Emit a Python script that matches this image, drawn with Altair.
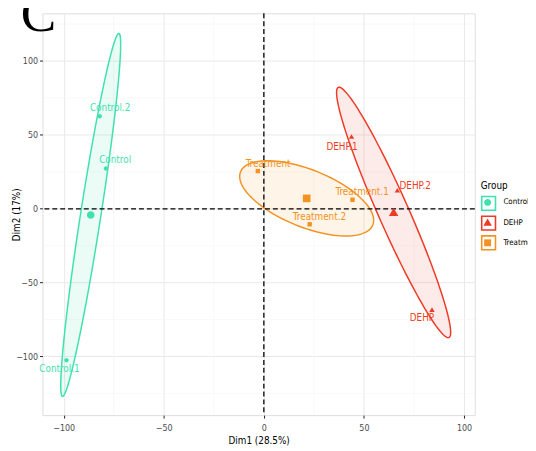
import sys
import altair as alt
import numpy as np
import pandas as pd

# ---- data ----
names = ["Control", "Control.1", "Control.2",
         "DEHP", "DEHP.1", "DEHP.2",
         "Treatment", "Treatment.1", "Treatment.2"]
groups = ["Control", "Control", "Control",
          "DEHP", "DEHP", "DEHP",
          "Treatment", "Treatment", "Treatment"]
dim1 = [-78.9, -98.6, -82.0, 84.0, 43.8, 66.7, -3.0, 44.3, 22.9]
dim2 = [27.3, -102.5, 62.6, -68.5, 48.7, 12.3, 25.5, 6.1, -10.5]
# label anchor positions (as placed by the repelling labeller)
label_x = [-74.3, -102.1, -76.8, 79.0, 39.1, 75.6, 2.1, 49.1, 27.8]
label_y = [32.8, -108.7, 68.5, -74.2, 41.6, 15.1, 30.3, 11.6, -5.4]

group_names = ["Control", "DEHP", "Treatment"]
group_colors = ["#3fe1ae", "#ee3b25", "#f39220"]
# symbol outlines (unit square coordinates)
group_shapes = ["M0,-0.5A0.5,0.5,0,1,1,0,0.5A0.5,0.5,0,1,1,0,-0.5Z",
                "M0,-0.6L0.62,0.45L-0.62,0.45Z",
                "M-0.5,-0.5H0.5V0.5H-0.5Z"]

x_ticks = [-100, -50, 0, 50, 100]
y_ticks = [-100, -50, 0, 50, 100]
x_minor = [-75, -25, 25, 75]
y_minor = [-125, -75, -25, 25, 75, 125]

FONT = "Liberation Sans Narrow, DejaVu Sans Condensed, sans-serif"


def safe_legend(encode=None, **kw):
    """Build a Legend, dropping any option the schema refuses."""
    good = {}
    for k, v in kw.items():
        try:
            alt.Legend(**good, **{k: v}).to_dict()
            good[k] = v
        except Exception:
            print("dropped legend option:", k, file=sys.stderr)
    if encode:
        sym = {}
        for k, v in encode.get("symbols", {}).items():
            trial = dict(sym)
            trial[k] = v
            try:
                alt.Legend(**good, encode={"symbols": trial}).to_dict()
                sym = trial
            except Exception:
                print("dropped symbol encode:", k, file=sys.stderr)
        if sym:
            good["encode"] = {"symbols": sym}
    return alt.Legend(**good)


pts = pd.DataFrame({"name": names, "Group": groups, "x": dim1, "y": dim2,
                    "lx": label_x, "ly": label_y})

# group barycentres and 95% confidence ellipses around them
chi = -2.0 * np.log(0.05)
ellipse_frames = []
means = []
for g in group_names:
    sub = pts[pts.Group == g]
    xy = sub[["x", "y"]].to_numpy()
    m = xy.mean(axis=0)
    means.append({"Group": g, "Gbox": g, "x": m[0], "y": m[1]})
    cov = np.cov(xy.T) / len(xy)
    L = np.linalg.cholesky(cov)
    r = np.sqrt(chi)
    t = np.linspace(0, 2 * np.pi, 121)
    circ = np.vstack([np.cos(t), np.sin(t)])
    e = m[:, None] + r * L @ circ
    ellipse_frames.append(pd.DataFrame({"i": np.arange(e.shape[1]), "x": e[0], "y": e[1]}))
mean_df = pd.DataFrame(means)

xscale = alt.Scale(domain=[-110.6, 105.4], nice=False, zero=False)
yscale = alt.Scale(domain=[-139.7, 132.3], nice=False, zero=False)

xaxis = alt.Axis(values=x_ticks, title="Dim1 (28.5%)", grid=True, gridColor="#e9e9e9",
                 gridWidth=1, domain=False, ticks=True, tickColor="#222222", tickSize=3,
                 tickWidth=1, labelFont=FONT, labelFontSize=9, labelColor="#4d4d4d",
                 labelPadding=6, titleFont=FONT, titleFontSize=10, titleFontWeight="normal",
                 titleColor="#000000", titlePadding=3)
yaxis = alt.Axis(values=y_ticks, title="Dim2 (17%)", grid=True, gridColor="#e9e9e9",
                 gridWidth=1, domain=False, ticks=True, tickColor="#222222", tickSize=3,
                 tickWidth=1, labelFont=FONT, labelFontSize=9, labelColor="#4d4d4d",
                 labelPadding=2, titleFont=FONT, titleFontSize=10, titleFontWeight="normal",
                 titleColor="#000000", titleX=-26, titleY=204, titleAngle=270,
                 titleAlign="center", titleBaseline="middle")

color_scale = alt.Scale(domain=group_names, range=group_colors)
shape_scale = alt.Scale(domain=group_names, range=group_shapes)

base = alt.Chart(pts)

minor_x = alt.Chart(pd.DataFrame({"v": x_minor})).mark_rule(
    color="#f3f3f3", strokeWidth=0.6).encode(x=alt.X("v:Q", scale=xscale, axis=xaxis))
minor_y = alt.Chart(pd.DataFrame({"v": y_minor})).mark_rule(
    color="#f3f3f3", strokeWidth=0.6).encode(y=alt.Y("v:Q", scale=yscale, axis=yaxis))

ellipse_layers = []
for g, c, df in zip(group_names, group_colors, ellipse_frames):
    ellipse_layers.append(
        alt.Chart(df).mark_line(stroke=c, fill=c, fillOpacity=0.1, strokeWidth=1.5).encode(
            x=alt.X("x:Q", scale=xscale),
            y=alt.Y("y:Q", scale=yscale),
            order="i:Q",
        )
    )

zero_v = alt.Chart(pd.DataFrame({"v": [0]})).mark_rule(
    color="black", strokeWidth=1.3, strokeDash=[5, 3]).encode(x=alt.X("v:Q", scale=xscale))
zero_h = alt.Chart(pd.DataFrame({"v": [0]})).mark_rule(
    color="black", strokeWidth=1.3, strokeDash=[5, 3]).encode(y=alt.Y("v:Q", scale=yscale))

LEG_X, LEG_Y = 445, 170
common = dict(title="Group", orient="none", legendX=LEG_X, legendY=LEG_Y,
              symbolSize=196, padding=0, titleFont=FONT, titleFontSize=10,
              titleFontWeight="normal", titlePadding=5, labelFont=FONT,
              labelFontSize=8, labelOffset=9)

box_legend = safe_legend(symbolType="square", titleColor="rgba(0,0,0,0)",
                         labelColor="rgba(0,0,0,0)", symbolStrokeWidth=1.6, zindex=0,
                         rowPadding=-2,
                         encode={"symbols": {"fillOpacity": {"value": 0.12},
                                             "strokeWidth": {"value": 1.6}}},
                         **common)
main_legend = safe_legend(titleColor="#000000", labelColor="#000000", zindex=1,
                          rowPadding=9.5, symbolStrokeWidth=0, **common)

# invisible marks carrying the key boxes of the legend
box_keys = alt.Chart(mean_df).mark_point(shape="square", filled=True, fillOpacity=0.12,
                                         strokeWidth=1.6, opacity=0, size=196).encode(
    x=alt.X("x:Q", scale=xscale),
    y=alt.Y("y:Q", scale=yscale),
    fill=alt.Fill("Gbox:N", scale=alt.Scale(range=group_colors), legend=box_legend),
    stroke=alt.Stroke("Gbox:N", scale=alt.Scale(range=group_colors), legend=box_legend),
)

points = base.mark_point(filled=True, size=80, opacity=1, strokeWidth=0).encode(
    x=alt.X("x:Q", scale=xscale),
    y=alt.Y("y:Q", scale=yscale),
    color=alt.Color("Group:N", scale=color_scale, legend=main_legend),
    shape=alt.Shape("Group:N", scale=shape_scale, legend=main_legend),
)

mean_pts = alt.Chart(mean_df).mark_point(filled=True, size=240, opacity=1,
                                         strokeWidth=0).encode(
    x=alt.X("x:Q", scale=xscale),
    y=alt.Y("y:Q", scale=yscale),
    color=alt.Color("Group:N", scale=color_scale, legend=main_legend),
    shape=alt.Shape("Group:N", scale=shape_scale, legend=main_legend),
)

labels = base.mark_text(font=FONT, fontSize=10, align="center", baseline="middle").encode(
    x=alt.X("lx:Q", scale=xscale),
    y=alt.Y("ly:Q", scale=yscale),
    text="name:N",
    color=alt.Color("Group:N", scale=color_scale, legend=None),
)

big_c = alt.Chart(pd.DataFrame({"t": ["C"]})).mark_text(
    font="Liberation Serif, DejaVu Serif, serif", fontSize=54, align="left",
    baseline="alphabetic", color="black").encode(
    text="t:N", x=alt.value(-22), y=alt.value(18))
title_txt = alt.Chart(pd.DataFrame({"t": ["Individuals - PCA"]})).mark_text(
    font=FONT, fontSize=10, fontWeight="bold", align="left",
    baseline="alphabetic", color="black").encode(
    text="t:N", x=alt.value(0), y=alt.value(-7))

chart = alt.layer(minor_x, minor_y, *ellipse_layers, zero_v, zero_h, box_keys, points,
                  mean_pts, labels, big_c, title_txt).properties(
    width=439, height=408,
    autosize=alt.AutoSizeParams(type="none"),
    padding={"left": 35, "top": 2, "right": 54, "bottom": 33},
).configure_view(stroke=None).configure(background="white")

chart.save("out.html", embed_options={"renderer": "svg", "actions": False})
